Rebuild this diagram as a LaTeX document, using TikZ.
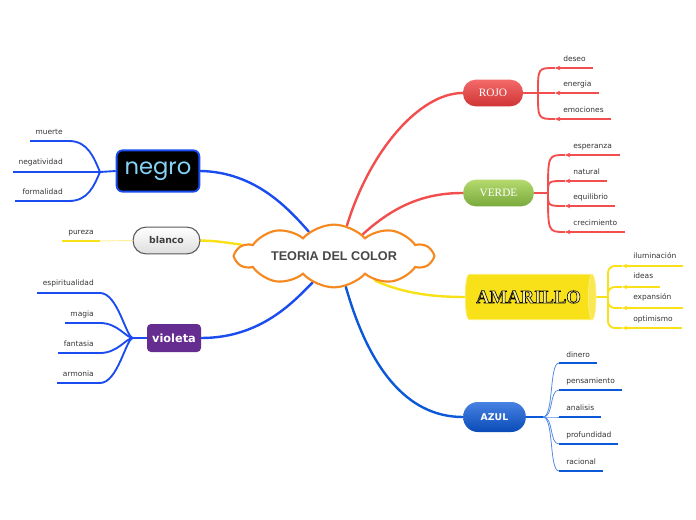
\documentclass[tikz,border=0pt]{standalone}
\usepackage{fontspec}
\setmainfont{DejaVu Sans}
\newfontfamily\serf{Liberation Serif}
\newfontfamily\arl{Liberation Sans}
\newfontfamily\pop{Poppins}
\usetikzlibrary{shapes.symbols,shapes.geometric,arrows.meta}
\definecolor{rojo}{HTML}{F24E4E}
\definecolor{amar}{HTML}{F9E11A}
\definecolor{azulc}{HTML}{0B58D8}
\definecolor{azulb}{HTML}{1A4CF0}
\definecolor{orng}{HTML}{F5891F}
\definecolor{purp}{HTML}{652D90}
\definecolor{negrot}{HTML}{86D2F6}
\definecolor{lblc}{HTML}{333333}
\definecolor{vtop}{HTML}{B5DA6E}
\definecolor{vbot}{HTML}{79A93C}
\definecolor{rtop}{HTML}{F46A6A}
\definecolor{rbot}{HTML}{CF3434}
\definecolor{amtxt}{HTML}{FBEE8A}
\pgfdeclarelayer{bg}
\pgfsetlayers{bg,main}
\begin{document}
\begin{tikzpicture}[x=0.75pt,y=-0.75pt,
  lbl/.style={font=\fontsize{5.6}{6}\selectfont, text=lblc, inner sep=0},
  mainc/.style={line width=1.8pt, line cap=round},
  subc/.style={line width=1.4pt},
  thinc/.style={line width=0.6pt},
  tip/.style={-{Stealth[length=4pt,width=3.5pt]}},
  pill/.style={rounded corners=9.5pt, inner sep=0},
]
\useasboundingbox (0,0) rectangle (696,520);

% ---------- central node
\node[cloud, cloud puffs=10, cloud puff arc=95, aspect=4.4, draw=orng, line width=1.6pt, fill=white,
  minimum width=147pt, minimum height=34pt, inner sep=0,
  font=\arl\bfseries\fontsize{9.5}{11}\selectfont, text=black!72] (center) at (334,256) {TEORIA DEL COLOR};

% ---------- main nodes
\node[pill, top color=rtop, bottom color=rbot, minimum width=45pt, minimum height=20pt,
  font=\serf\fontsize{8.5}{10}\selectfont, text=white] (rojo) at (493,93) {ROJO};
\node[pill, top color=vtop, bottom color=vbot, minimum width=53pt, minimum height=20pt,
  font=\serf\fontsize{8.5}{10}\selectfont, text=white] (verde) at (498.5,193) {VERDE};
\node[cylinder, shape border rotate=0, aspect=0.6, minimum height=98pt, minimum width=34pt, inner sep=0,
  cylinder uses custom fill, cylinder body fill=amar, cylinder end fill=amar!75!white, draw=amar!60!white, line width=0.6pt,
  font=\serf\bfseries\fontsize{14}{16}\selectfont, text=amtxt] (amar) at (528.5,297) {\special{pdf:literal direct 0 G 0.45 w 2 Tr}AMARILLO\special{pdf:literal direct 0 Tr}};
\node[pill, rounded corners=11pt, top color=azulc!75!white, bottom color=azulc!85!black, minimum width=47pt, minimum height=22.5pt,
  font=\bfseries\fontsize{7}{8}\selectfont, text=white] (azul) at (494.5,417) {AZUL};
\node[rounded corners=4.5pt, fill=black, draw=azulb, line width=1.4pt, minimum width=62pt, minimum height=31pt, inner sep=0,
  font=\pop\fontsize{17}{18}\selectfont, text=negrot] (negro) at (158,171) {negro};
\node[pill, top color=white, bottom color=black!13, draw=black!65, line width=0.8pt, minimum width=50pt, minimum height=20pt,
  font=\bfseries\fontsize{7}{8}\selectfont, text=black!75] (blanco) at (166.5,240.5) {blanco};
\node[rounded corners=3pt, fill=purp, minimum width=40.5pt, minimum height=21pt, inner sep=0,
  font=\bfseries\fontsize{8.5}{10}\selectfont, text=white] (violeta) at (174,338) {violeta};

% ---------- main connectors
\begin{pgfonlayer}{bg}
\draw[mainc, rojo] (center.67) .. controls (370,150) and (420,93) .. (rojo.west);
\draw[mainc, rojo] (center.37) .. controls (395,205) and (425,193) .. (verde.west);
\draw[mainc, amar] (center.-31) .. controls (405,294) and (435,297) .. (amar.west);
\draw[mainc, azulc] (center.-69) .. controls (368,365) and (405,417) .. (azul.west);
\draw[mainc, azulb] (negro.east) .. controls (255,172) and (288,208) .. (center.136);
\draw[mainc, amar] (blanco.east) .. controls (215,241) .. (center.173);
\draw[mainc, azulb] (violeta.east) .. controls (262,338) and (295,300) .. (center.231);
\end{pgfonlayer}

% ---------- ROJO children
\coordinate (rb) at (538,93);
\coordinate (r1s) at (555,68);  \coordinate (r1e) at (593,68);
\coordinate (r2s) at (555,93);  \coordinate (r2e) at (599,93);
\coordinate (r3s) at (555,119); \coordinate (r3e) at (611,119);
\draw[subc, rojo] (rojo.east) -- (rb);
\draw[subc, rojo] (rb) .. controls (rb |- r1s) .. (r1s);
\draw[subc, rojo] (rb) -- (r2s);
\draw[subc, rojo] (rb) .. controls (rb |- r3s) .. (r3s);
\foreach \i in {1,2,3} \draw[subc, rojo, tip] (r\i e) -- (r\i s);
\node[lbl, anchor=base west] (r1) at (563,62) {deseo};
\node[lbl, anchor=base west] (r2) at (563,87) {energia};
\node[lbl, anchor=base west] (r3) at (563,113) {emociones};

% ---------- VERDE children
\coordinate (vb) at (548,193);
\coordinate (v1s) at (565,155);   \coordinate (v1e) at (620,155);
\coordinate (v2s) at (565,181);   \coordinate (v2e) at (607,181);
\coordinate (v3s) at (565,206);   \coordinate (v3e) at (615,206);
\coordinate (v4s) at (565,232);   \coordinate (v4e) at (625,232);
\draw[subc, rojo] (verde.east) -- (vb);
\foreach \i in {1,2,3,4} {
  \draw[subc, rojo] (vb) .. controls (vb |- v\i s) .. (v\i s);
  \draw[subc, rojo, tip] (v\i e) -- (v\i s);
}
\node[lbl, anchor=base west] (v1) at (573,149) {esperanza};
\node[lbl, anchor=base west] (v2) at (573,175) {natural};
\node[lbl, anchor=base west] (v3) at (573,200) {equilibrio};
\node[lbl, anchor=base west] (v4) at (573,226) {crecimiento};

% ---------- AMARILLO children
\coordinate (ab) at (608,297);
\coordinate (a1s) at (622,266); \coordinate (a1e) at (683,266);
\coordinate (a2s) at (622,287); \coordinate (a2e) at (660,287);
\coordinate (a3s) at (622,308); \coordinate (a3e) at (683,308);
\coordinate (a4s) at (622,328); \coordinate (a4e) at (682,328);
\draw[subc, amar] (amar.east) -- (ab);
\foreach \i in {1,2,3,4} {
  \draw[subc, amar, rounded corners=5pt] (ab) -- (ab |- a\i s) -- (a\i s);
  \draw[subc, amar, tip] (a\i e) -- (a\i s);
}
\node[lbl, anchor=base west] (a1) at (633,259) {iluminación};
\node[lbl, anchor=base west] (a2) at (633,279) {ideas};
\node[lbl, anchor=base west] (a3) at (633,300) {expansión};
\node[lbl, anchor=base west] (a4) at (633,321) {optimismo};

% ---------- AZUL children
\coordinate (zb) at (543,417);
\coordinate (z1s) at (559,363); \coordinate (z1e) at (597,363);
\coordinate (z2s) at (559,390); \coordinate (z2e) at (622,390);
\coordinate (z3s) at (559,417); \coordinate (z3e) at (601,417);
\coordinate (z4s) at (559,444); \coordinate (z4e) at (618,444);
\coordinate (z5s) at (559,471); \coordinate (z5e) at (603,471);
\draw[subc, azulc] (azul.east) -- (zb);
\foreach \i in {1,2,3,4,5} {
  \draw[thinc, azulc!70!white] (zb) .. controls (554,417) and (549,0|-z\i s) .. (z\i s);
  \draw[subc, azulc] (z\i s) -- (z\i e);
}
\node[lbl, anchor=base west] (z1) at (566,357) {dinero};
\node[lbl, anchor=base west] (z2) at (566,383.5) {pensamiento};
\node[lbl, anchor=base west] (z3) at (566,410.5) {analisis};
\node[lbl, anchor=base west] (z4) at (566,437.5) {profundidad};
\node[lbl, anchor=base west] (z5) at (566,464) {racional};

% ---------- negro children
\coordinate (nb) at (100,172);
\coordinate (n1s) at (30,141);  \coordinate (n1e) at (69,141);
\coordinate (n2s) at (13,172);  \coordinate (n2e) at (69,172);
\coordinate (n3s) at (15,201);  \coordinate (n3e) at (69,201);
\draw[subc, azulb] (negro.west) -- (nb);
\draw[subc, azulb] (n1s) -- (n1e) .. controls (88,141) and (94,158) .. (nb);
\draw[subc, azulb] (n2s) -- (n2e) -- (nb);
\draw[subc, azulb] (n3s) -- (n3e) .. controls (88,201) and (94,186) .. (nb);
\node[lbl, anchor=base east] (n1) at (63,134.5) {muerte};
\node[lbl, anchor=base east] (n2) at (63,165) {negatividad};
\node[lbl, anchor=base east] (n3) at (63,194.5) {formalidad};

% ---------- blanco child
\coordinate (p1s) at (62,241); \coordinate (p1e) at (100,241);
\draw[subc, amar] (p1s) -- (p1e);
\draw[line width=0.7pt, amar!45!white] (p1e) -- (blanco.west);
\node[lbl, anchor=base west] (p1) at (68,234.5) {pureza};

% ---------- violeta children
\coordinate (ob) at (133,338);
\coordinate (o1s) at (37,293);  \coordinate (o1e) at (100,293);
\coordinate (o2s) at (65,323);  \coordinate (o2e) at (100,323);
\coordinate (o3s) at (58,353);  \coordinate (o3e) at (100,353);
\coordinate (o4s) at (57,383);  \coordinate (o4e) at (100,383);
\draw[subc, azulb] (violeta.west) -- (ob);
\foreach \i in {1,2,3,4}
  \draw[subc, azulb] (o\i s) -- (o\i e) .. controls (118,0|-o\i e) and (126,338) .. (ob);
\node[lbl, anchor=base east] (o1) at (94,286) {espiritualidad};
\node[lbl, anchor=base east] (o2) at (94,316) {magia};
\node[lbl, anchor=base east] (o3) at (94,346) {fantasia};
\node[lbl, anchor=base east] (o4) at (94,376) {armonia};
\end{tikzpicture}
\end{document}
